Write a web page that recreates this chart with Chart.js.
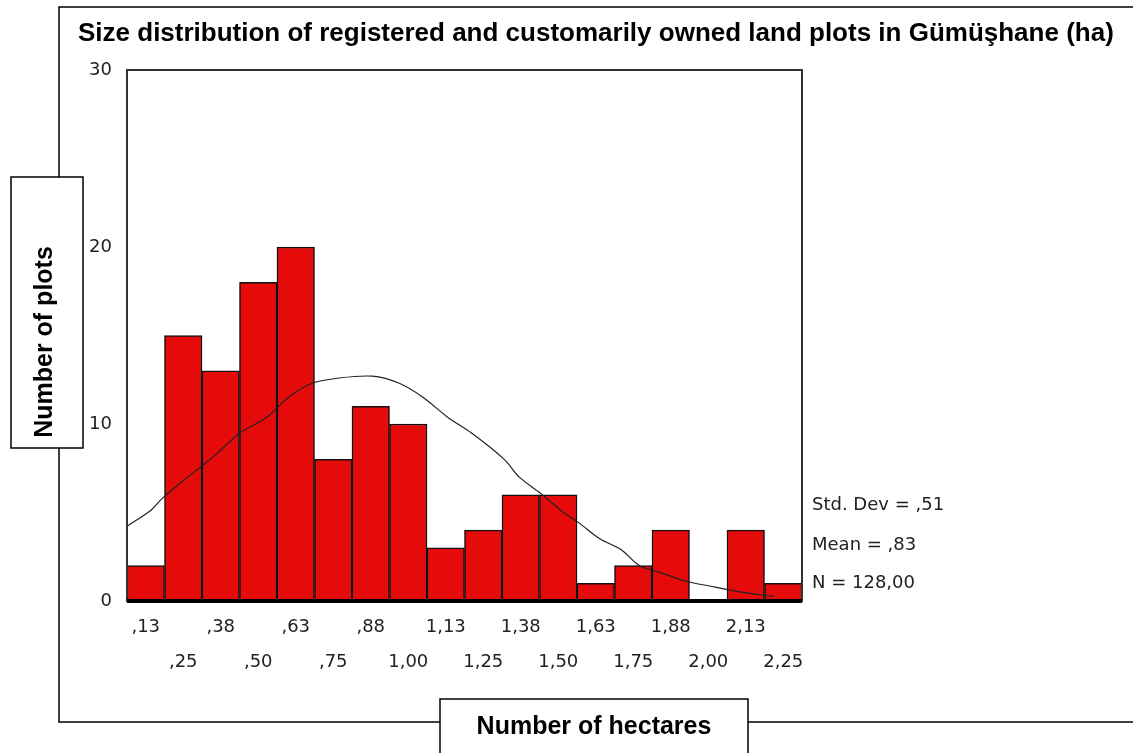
<!DOCTYPE html>
<html>
<head>
<meta charset="utf-8">
<script src="https://cdn.jsdelivr.net/npm/chart.js@4"></script>
<style>
  body { margin: 0; background: #fff; }
</style>
</head>
<body>
<canvas id="myChart" width="1133" height="753"></canvas>
<script>
// histogram bins (ha) and counts
const binLabels = [",13", ",25", ",38", ",50", ",63", ",75", ",88", "1,00", "1,13",
  "1,25", "1,38", "1,50", "1,63", "1,75", "1,88", "2,00", "2,13", "2,25"];
const plotCounts = [2, 15, 13, 18, 20, 8, 11, 10, 3, 4, 6, 6, 1, 2, 4, 0, 4, 1];

// normal curve
const curveX = [0.06, 0.14, 0.18, 0.25, 0.31, 0.36, 0.44, 0.53, 0.6, 0.68, 0.77, 0.88,
  0.97, 1.05, 1.13, 1.21, 1.32, 1.37, 1.44, 1.51, 1.57, 1.64, 1.71, 1.77, 1.84,
  1.93, 2.02, 2.11, 2.22];
const curveY = [4.2, 5.1, 5.8, 6.8, 7.6, 8.3, 9.5, 10.4, 11.5, 12.3, 12.6, 12.7,
  12.3, 11.5, 10.4, 9.5, 8.0, 7.0, 6.1, 5.1, 4.4, 3.5, 2.9, 2.0, 1.6,
  1.1, 0.8, 0.5, 0.25];

const yTicks = [0, 10, 20, 30];
const statLines = ["Std. Dev = ,51", "Mean = ,83", "N = 128,00"];

const titleText = "Size distribution of registered and customarily owned land plots in Gümüşhane (ha)";
const yTitle = "Number of plots";
const xTitle = "Number of hectares";

const boxesPlugin = {
  id: "boxes",
  beforeDraw(chart) {
    const c = chart.ctx;
    c.save();
    c.fillStyle = "#fff";
    c.fillRect(0, 0, chart.width, chart.height);
    c.restore();
  },
  afterDraw(chart) {
    const c = chart.ctx;
    const a = chart.chartArea;
    c.save();

    // outer frame
    c.strokeStyle = "#000";
    c.lineWidth = 1.5;
    c.beginPath();
    c.moveTo(1140, 7);
    c.lineTo(59, 7);
    c.lineTo(59, 177);
    c.moveTo(59, 448);
    c.lineTo(59, 722);
    c.lineTo(440, 722);
    c.moveTo(748, 722);
    c.lineTo(1140, 722);
    c.stroke();
    c.strokeRect(11, 177, 72, 271);
    c.strokeRect(440, 699, 308, 70);

    // plot border
    c.strokeStyle = "#333";
    c.lineWidth = 2;
    c.strokeRect(a.left, a.top, a.right - a.left, a.bottom - a.top);
    c.fillStyle = "#000";
    c.fillRect(a.left, a.bottom - 2, a.right - a.left, 4);

    // titles
    c.fillStyle = "#000";
    c.font = "bold 26px 'Liberation Sans', Arial, sans-serif";
    c.textBaseline = "alphabetic";
    c.textAlign = "left";
    c.fillText(titleText, 78, 41);
    c.font = "bold 25px 'Liberation Sans', Arial, sans-serif";
    c.textAlign = "center";
    c.textBaseline = "middle";
    c.fillText(xTitle, 594, 727);
    c.translate(45, 342);
    c.rotate(-Math.PI / 2);
    c.fillText(yTitle, 0, 0);
    c.setTransform(1, 0, 0, 1, 0, 0);

    // stats
    c.fillStyle = "#222";
    c.font = "18px 'DejaVu Sans', sans-serif";
    c.textAlign = "left";
    c.fillText(statLines[0], 812, 505);
    c.fillText(statLines[1], 812, 545);
    c.fillText(statLines[2], 812, 583);
    c.restore();
  }
};

const ctx = document.getElementById("myChart");

new Chart(ctx, {
  type: "bar",
  data: {
    labels: binLabels,
    datasets: [
      {
        type: "line",
        data: curveX.map((x, i) => ({ x: x, y: curveY[i] })),
        xAxisID: "x2",
        borderColor: "#222",
        borderWidth: 1.2,
        pointRadius: 0,
        tension: 0.3,
        order: 0,
      },
      {
        data: plotCounts,
        backgroundColor: "#e50b0b",
        borderColor: "#111",
        borderWidth: 1.5,
        barPercentage: 1,
        categoryPercentage: 1,
        grouped: false,
        order: 1,
      },
    ],
  },
  options: {
    responsive: false,
    animation: false,
    layout: { padding: { left: 67, right: 331, top: 70, bottom: 52 } },
    plugins: {
      legend: { display: false },
      tooltip: { enabled: false },
    },
    scales: {
      x: {
        grid: { display: false, drawTicks: false },
        border: { display: false },
        afterFit: (s) => { s.height = 100; },
        ticks: {
          autoSkip: false,
          maxRotation: 0,
          padding: 9,
          color: "#222",
          font: { family: "'DejaVu Sans', sans-serif", size: 18, lineHeight: "35px" },
          callback: (v, i) => (i % 2 ? ["", binLabels[i]] : binLabels[i]),
        },
      },
      x2: {
        type: "linear",
        display: false,
        offset: false,
        min: 0.0625,
        max: 2.3125,
      },
      y: {
        min: 0,
        max: 30,
        grid: { display: false, drawTicks: false },
        border: { display: false },
        afterFit: (s) => { s.width = 60; },
        afterBuildTicks: (s) => { s.ticks = yTicks.map((v) => ({ value: v })); },
        ticks: {
          padding: 15,
          color: "#222",
          font: { family: "'DejaVu Sans', sans-serif", size: 18 },
        },
      },
    },
  },
  plugins: [boxesPlugin],
});
</script>
</body>
</html>
